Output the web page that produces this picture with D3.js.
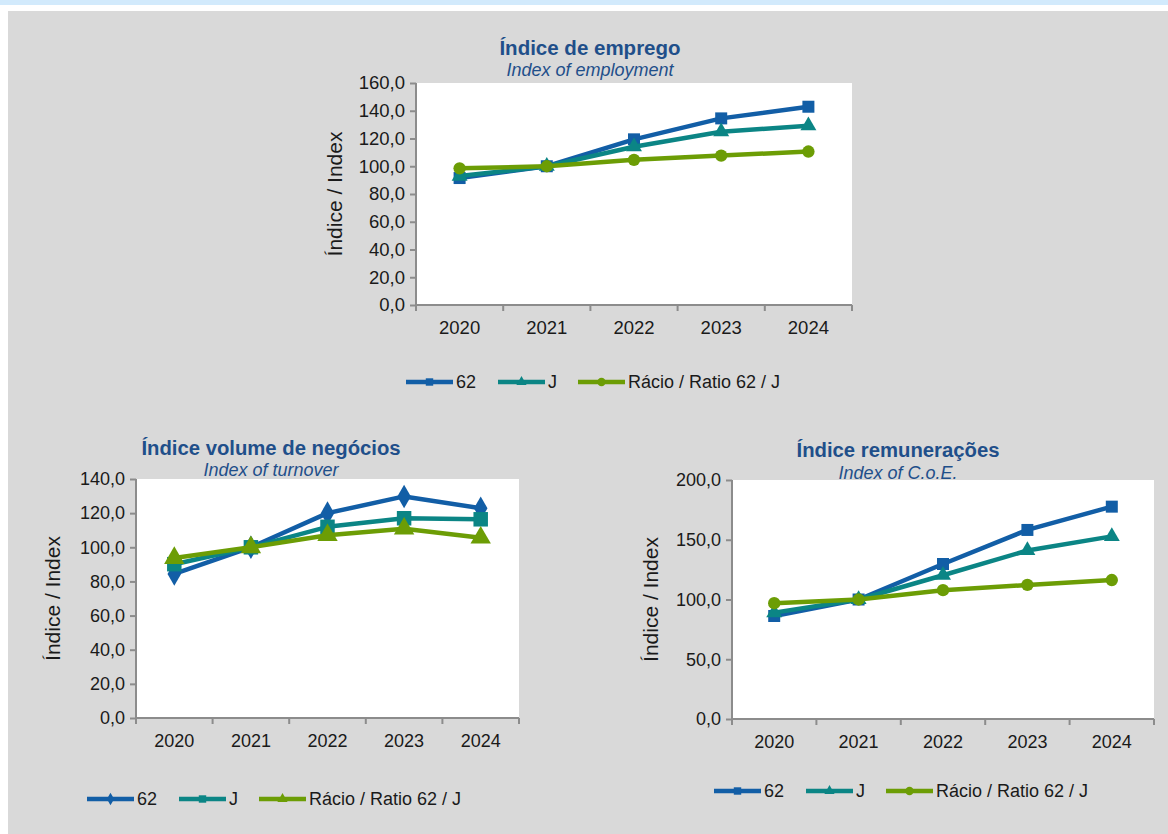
<!DOCTYPE html>
<html>
<head>
<meta charset="utf-8">
<script src="https://cdn.jsdelivr.net/npm/d3@7"></script>
<style>
  html, body { margin: 0; padding: 0; background: #ffffff; }
  svg { display: block; font-family: "Liberation Sans", Arial, sans-serif; }
</style>
</head>
<body>
<svg id="chart" width="1168" height="834"></svg>
<script>
// Categories
const years = ["2020", "2021", "2022", "2023", "2024"];

// Series names
const seriesNames = ["62", "J", "Rácio / Ratio 62 / J"];

// Índice de emprego / Index of employment
const empSector62 = [91.5, 100, 119.4, 134.5, 142.9];
const empJ = [92.9, 100, 114.1, 124.9, 129.2];
const empRatio = [98.5, 100, 104.6, 107.7, 110.6];

// Índice volume de negócios / Index of turnover
const turnSector62 = [84.4, 100, 120.0, 129.8, 122.9];
const turnJ = [90.1, 100, 112.0, 117.0, 116.4];
const turnRatio = [93.7, 100, 107.1, 110.9, 105.6];

// Índice remunerações / Index of C.o.E.
const coeSector62 = [86.2, 100, 129.7, 158.2, 177.7];
const coeJ = [89.0, 100, 120.3, 141.0, 152.8];
const coeRatio = [96.9, 100, 107.8, 112.2, 116.3];

// Y tick values
const empTicks = [0, 20, 40, 60, 80, 100, 120, 140, 160];
const turnTicks = [0, 20, 40, 60, 80, 100, 120, 140];
const coeTicks = [0, 50, 100, 150, 200];

const colors = ["#125ea6", "#0b8585", "#6c9d05"];
const titleColor = "#1f4f8a";
const axisColor = "#8c8c8c";

const svg = d3.select("#chart");

// Page background
svg.append("rect").attr("x", 0).attr("y", 0).attr("width", 1168).attr("height", 834).attr("fill", "#ffffff");
svg.append("rect").attr("x", 0).attr("y", 0).attr("width", 1168).attr("height", 5).attr("fill", "#d2eafc");
svg.append("rect").attr("x", 8).attr("y", 11).attr("width", 1160).attr("height", 823).attr("fill", "#d9d9d9");

const fmt = v => d3.format(".1f")(v).replace(".", ",");

function drawChart(cfg) {
  const g = svg.append("g");
  const x = d3.scaleBand().domain(years).range([cfg.left, cfg.right]);
  const y = d3.scaleLinear().domain([0, cfg.yMax]).range([cfg.bottom, cfg.top]);

  // Titles
  g.append("text").attr("x", cfg.titleX).attr("y", cfg.titleY)
    .attr("text-anchor", "middle").attr("font-weight", "bold").attr("font-size", cfg.titleSize)
    .attr("fill", titleColor).text(cfg.title);
  g.append("text").attr("x", cfg.titleX).attr("y", cfg.subY)
    .attr("text-anchor", "middle").attr("font-style", "italic").attr("font-size", cfg.subSize)
    .attr("fill", titleColor).text(cfg.subtitle);

  // Plot area
  g.append("rect").attr("x", cfg.left).attr("y", cfg.top)
    .attr("width", cfg.right - cfg.left).attr("height", cfg.bottom - cfg.top).attr("fill", "#ffffff");

  // Y axis
  const yAxis = g.append("g").attr("transform", `translate(${cfg.left},0)`)
    .call(d3.axisLeft(y).tickValues(cfg.ticks).tickFormat(fmt).tickSize(6).tickPadding(5));
  // X axis with ticks at band boundaries
  const xAxis = g.append("g").attr("transform", `translate(0,${cfg.bottom})`)
    .call(d3.axisBottom(x).tickSize(0).tickPadding(cfg.xPad));
  [yAxis, xAxis].forEach(a => {
    a.select(".domain").attr("stroke", axisColor).attr("stroke-width", 2);
    a.selectAll(".tick line").attr("stroke", axisColor).attr("stroke-width", 2);
    a.selectAll("text").attr("fill", "#1a1a1a").attr("font-size", cfg.tickSize)
      .attr("font-family", "Liberation Sans, Arial, sans-serif");
  });
  yAxis.select(".domain").attr("d", `M0,${cfg.top}V${cfg.bottom}`);
  xAxis.select(".domain").attr("d", `M${cfg.left},0H${cfg.right}`);
  const bounds = years.map(d => x(d)).concat([cfg.right]);
  xAxis.selectAll(".bound").data(bounds).join("line").attr("class", "bound")
    .attr("x1", d => d).attr("x2", d => d).attr("y1", 0).attr("y2", 6)
    .attr("stroke", axisColor).attr("stroke-width", 2);

  // Axis title
  g.append("text")
    .attr("transform", `translate(${cfg.yLabelX},${(cfg.top + cfg.bottom) / 2}) rotate(-90)`)
    .attr("text-anchor", "middle").attr("font-size", cfg.yLabelSize).attr("fill", "#1a1a1a")
    .text("Índice / Index");

  // Series lines and markers
  const line = d3.line().x((d, i) => x(years[i]) + x.bandwidth() / 2).y(d => y(d));
  cfg.series.forEach((vals, s) => {
    g.append("path").datum(vals).attr("d", line).attr("fill", "none")
      .attr("stroke", colors[s]).attr("stroke-width", 4.5).attr("stroke-linejoin", "round");
    g.selectAll(null).data(vals).join("path")
      .attr("d", d3.symbol().type(cfg.symbols[s]).size(cfg.symbolSizes[s]))
      .attr("transform", (d, i) => `translate(${x(years[i]) + x.bandwidth() / 2},${y(d)})`)
      .attr("fill", colors[s]);
  });

  // Legend
  const lg = g.append("g").attr("transform", `translate(0,${cfg.legendY})`);
  cfg.legendX.forEach((lx, s) => {
    lg.append("line").attr("x1", lx).attr("x2", lx + 47).attr("y1", 0).attr("y2", 0)
      .attr("stroke", colors[s]).attr("stroke-width", 4.5);
    lg.append("path").attr("d", d3.symbol().type(cfg.symbols[s]).size(cfg.legendSymbolSizes[s]))
      .attr("transform", `translate(${lx + 23.5},0)`).attr("fill", colors[s]);
    lg.append("text").attr("x", lx + 50).attr("y", 0).attr("dy", "0.35em")
      .attr("font-size", cfg.legendSize).attr("fill", "#1a1a1a").text(seriesNames[s]);
  });
}

drawChart({
  title: "Índice de emprego", subtitle: "Index of employment",
  titleX: 590, titleY: 55, subY: 76, titleSize: 20.5, subSize: 18,
  left: 416, right: 852, top: 83, bottom: 305, yMax: 160, ticks: empTicks,
  tickSize: 18.5, xPad: 16, yLabelX: 342, yLabelSize: 21,
  series: [empSector62, empJ, empRatio],
  symbols: [d3.symbolSquare, d3.symbolTriangle, d3.symbolCircle],
  symbolSizes: [144, 110, 120], legendSymbolSizes: [55, 45, 55],
  legendY: 382, legendX: [406, 498, 578], legendSize: 18
});

drawChart({
  title: "Índice volume de negócios", subtitle: "Index of turnover",
  titleX: 271, titleY: 455, subY: 476, titleSize: 20.3, subSize: 18,
  left: 136, right: 519, top: 479, bottom: 718, yMax: 140, ticks: turnTicks,
  tickSize: 18, xPad: 16, yLabelX: 60, yLabelSize: 21,
  series: [turnSector62, turnJ, turnRatio],
  symbols: [d3.symbolDiamond, d3.symbolSquare, d3.symbolTriangle],
  symbolSizes: [160, 210, 180], legendSymbolSizes: [45, 55, 45],
  legendY: 799, legendX: [87, 179, 259], legendSize: 18
});

drawChart({
  title: "Índice remunerações", subtitle: "Index of C.o.E.",
  titleX: 898, titleY: 457, subY: 479, titleSize: 20.3, subSize: 18,
  left: 732, right: 1154, top: 480, bottom: 719, yMax: 200, ticks: coeTicks,
  tickSize: 18, xPad: 16, yLabelX: 658, yLabelSize: 21,
  series: [coeSector62, coeJ, coeRatio],
  symbols: [d3.symbolSquare, d3.symbolTriangle, d3.symbolCircle],
  symbolSizes: [144, 110, 120], legendSymbolSizes: [55, 45, 55],
  legendY: 791, legendX: [714, 806, 886], legendSize: 18
});
</script>
</body>
</html>
